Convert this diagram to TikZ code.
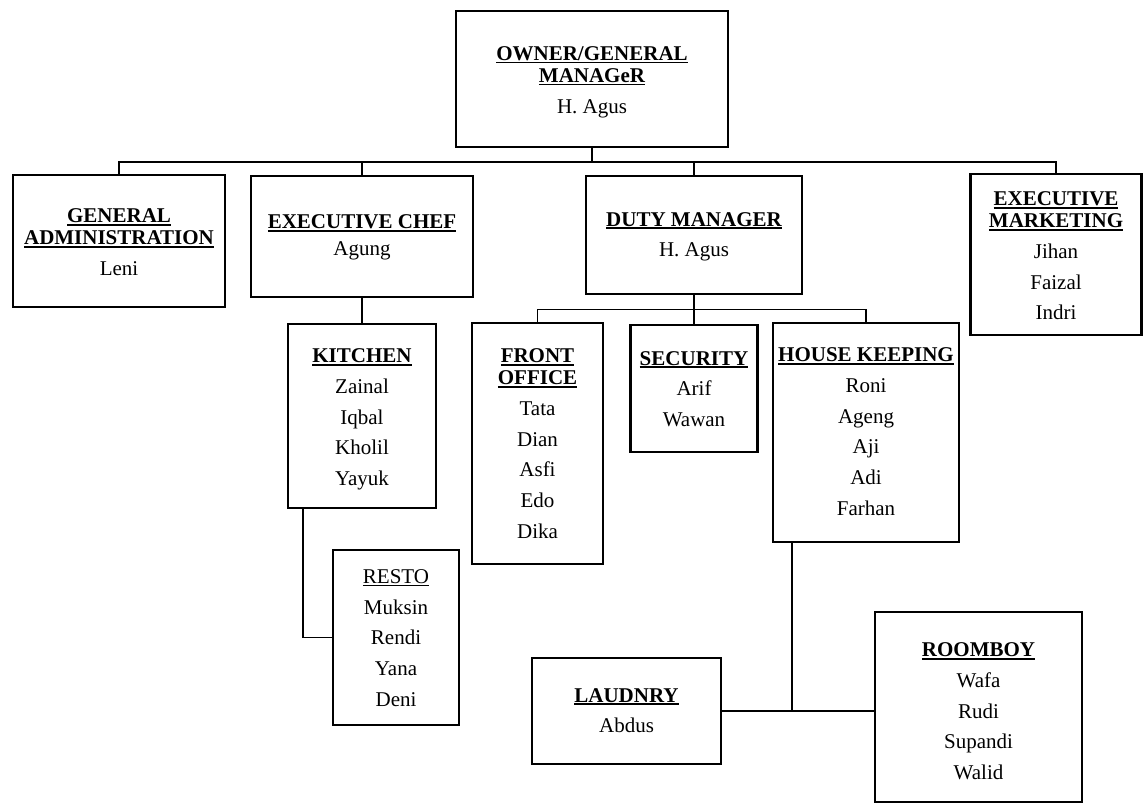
\documentclass[tikz,border=0pt]{standalone}
\usepackage{fontspec}
\setmainfont{Liberation Serif}
\newcommand{\hdr}[1]{{\bfseries\setbox0\hbox{#1}\rlap{\rule[-3pt]{\wd0}{1.8pt}}\box0}}
\newcommand{\hdrn}[1]{{\setbox0\hbox{#1}\rlap{\rule[-2.8pt]{\wd0}{1.2pt}}\box0}}
\begin{document}
\begin{tikzpicture}[x=1pt,y=-1pt,
  box/.style={draw, line width=2.6pt, inner sep=0pt, outer sep=0pt},
  txt/.style={anchor=north, align=center, inner sep=0pt, font=\fontsize{21}{30.7}\selectfont},
  conn/.style={line width=1.3pt}]
\useasboundingbox (0,0) rectangle (1143,805);
% boxes
\node[box, minimum width=272pt, minimum height=136pt] (owner) at (592,79) {};
\node[box, minimum width=212pt, minimum height=132pt] (ga) at (119,241) {};
\node[box, minimum width=222pt, minimum height=121pt] (chef) at (362,236.5) {};
\node[box, minimum width=216pt, minimum height=118pt] (duty) at (694,235) {};
\node[box, minimum width=171pt, minimum height=161pt] (mkt) at (1056,254.5) {};
\node[box, minimum width=148pt, minimum height=184pt] (kitchen) at (362,416) {};
\node[box, minimum width=131pt, minimum height=241pt] (fo) at (537.5,443.5) {};
\node[box, minimum width=127pt, minimum height=127pt] (sec) at (694,388.5) {};
\node[box, minimum width=186pt, minimum height=219pt] (hk) at (866,432.5) {};
\node[box, minimum width=126pt, minimum height=175pt] (resto) at (396,637.5) {};
\node[box, minimum width=189pt, minimum height=106pt] (laundry) at (626.5,711) {};
\node[box, minimum width=207pt, minimum height=190pt] (roomboy) at (978.5,707) {};
% texts
\node[txt] (towner) at (592,46.3) {\hdr{OWNER/GENERAL}\\[-8.7pt]\hdr{MANAGeR}\\H. Agus};
\node[txt] (tga) at (119,208.5) {\hdr{GENERAL}\\[-8.7pt]\hdr{ADMINISTRATION}\\Leni};
\node[txt] (tchef) at (362,214.7) {\hdr{EXECUTIVE CHEF}\\[-3.7pt]Agung};
\node[txt] (tduty) at (694,212) {\hdr{DUTY MANAGER}\\H. Agus};
\node[txt] (tmkt) at (1056,191.8) {\hdr{EXECUTIVE}\\[-8.9pt]\hdr{MARKETING}\\Jihan\\Faizal\\Indri};
\node[txt] (tkitchen) at (362,348.5) {\hdr{KITCHEN}\\Zainal\\Iqbal\\Kholil\\Yayuk};
\node[txt] (tfo) at (537.5,348.5) {\hdr{FRONT}\\[-8.7pt]\hdr{OFFICE}\\Tata\\Dian\\Asfi\\Edo\\Dika};
\node[txt] (tsec) at (694,351) {\hdr{SECURITY}\\Arif\\Wawan};
\node[txt] (thk) at (866,347.7) {\hdr{HOUSE KEEPING}\\Roni\\Ageng\\Aji\\Adi\\Farhan};
\node[txt] (tresto) at (396,569.2) {\hdrn{RESTO}\\Muksin\\Rendi\\Yana\\Deni};
\node[txt] (tlaundry) at (626.5,688.2) {\hdr{LAUDNRY}\\Abdus};
\node[txt] (troomboy) at (978.5,642.5) {\hdr{ROOMBOY}\\Wafa\\Rudi\\Supandi\\Walid};
% connectors
\coordinate (bus) at (592,162);
\coordinate (sub) at (694,309.5);
\draw[conn] (owner.south) -- (bus);
\draw[conn] (ga.north) |- (bus) -| (mkt.north);
\draw[conn] (chef.north) -- (chef.north |- bus);
\draw[conn] (duty.north) -- (duty.north |- bus);
\draw[conn] (duty.south) -- (sec.north);
\draw[conn] (fo.north) |- (sub) -| (hk.north);
\draw[conn] (chef.south) -- (kitchen.north);
\draw[conn] ([xshift=15pt]kitchen.south west) |- (resto.west);
\coordinate (lr) at ([xshift=19pt]hk.south west |- laundry.east);
\draw[conn] ([xshift=19pt]hk.south west) -- (lr);
\draw[conn] (laundry.east) -- (laundry.east -| roomboy.west);
\end{tikzpicture}
\end{document}
